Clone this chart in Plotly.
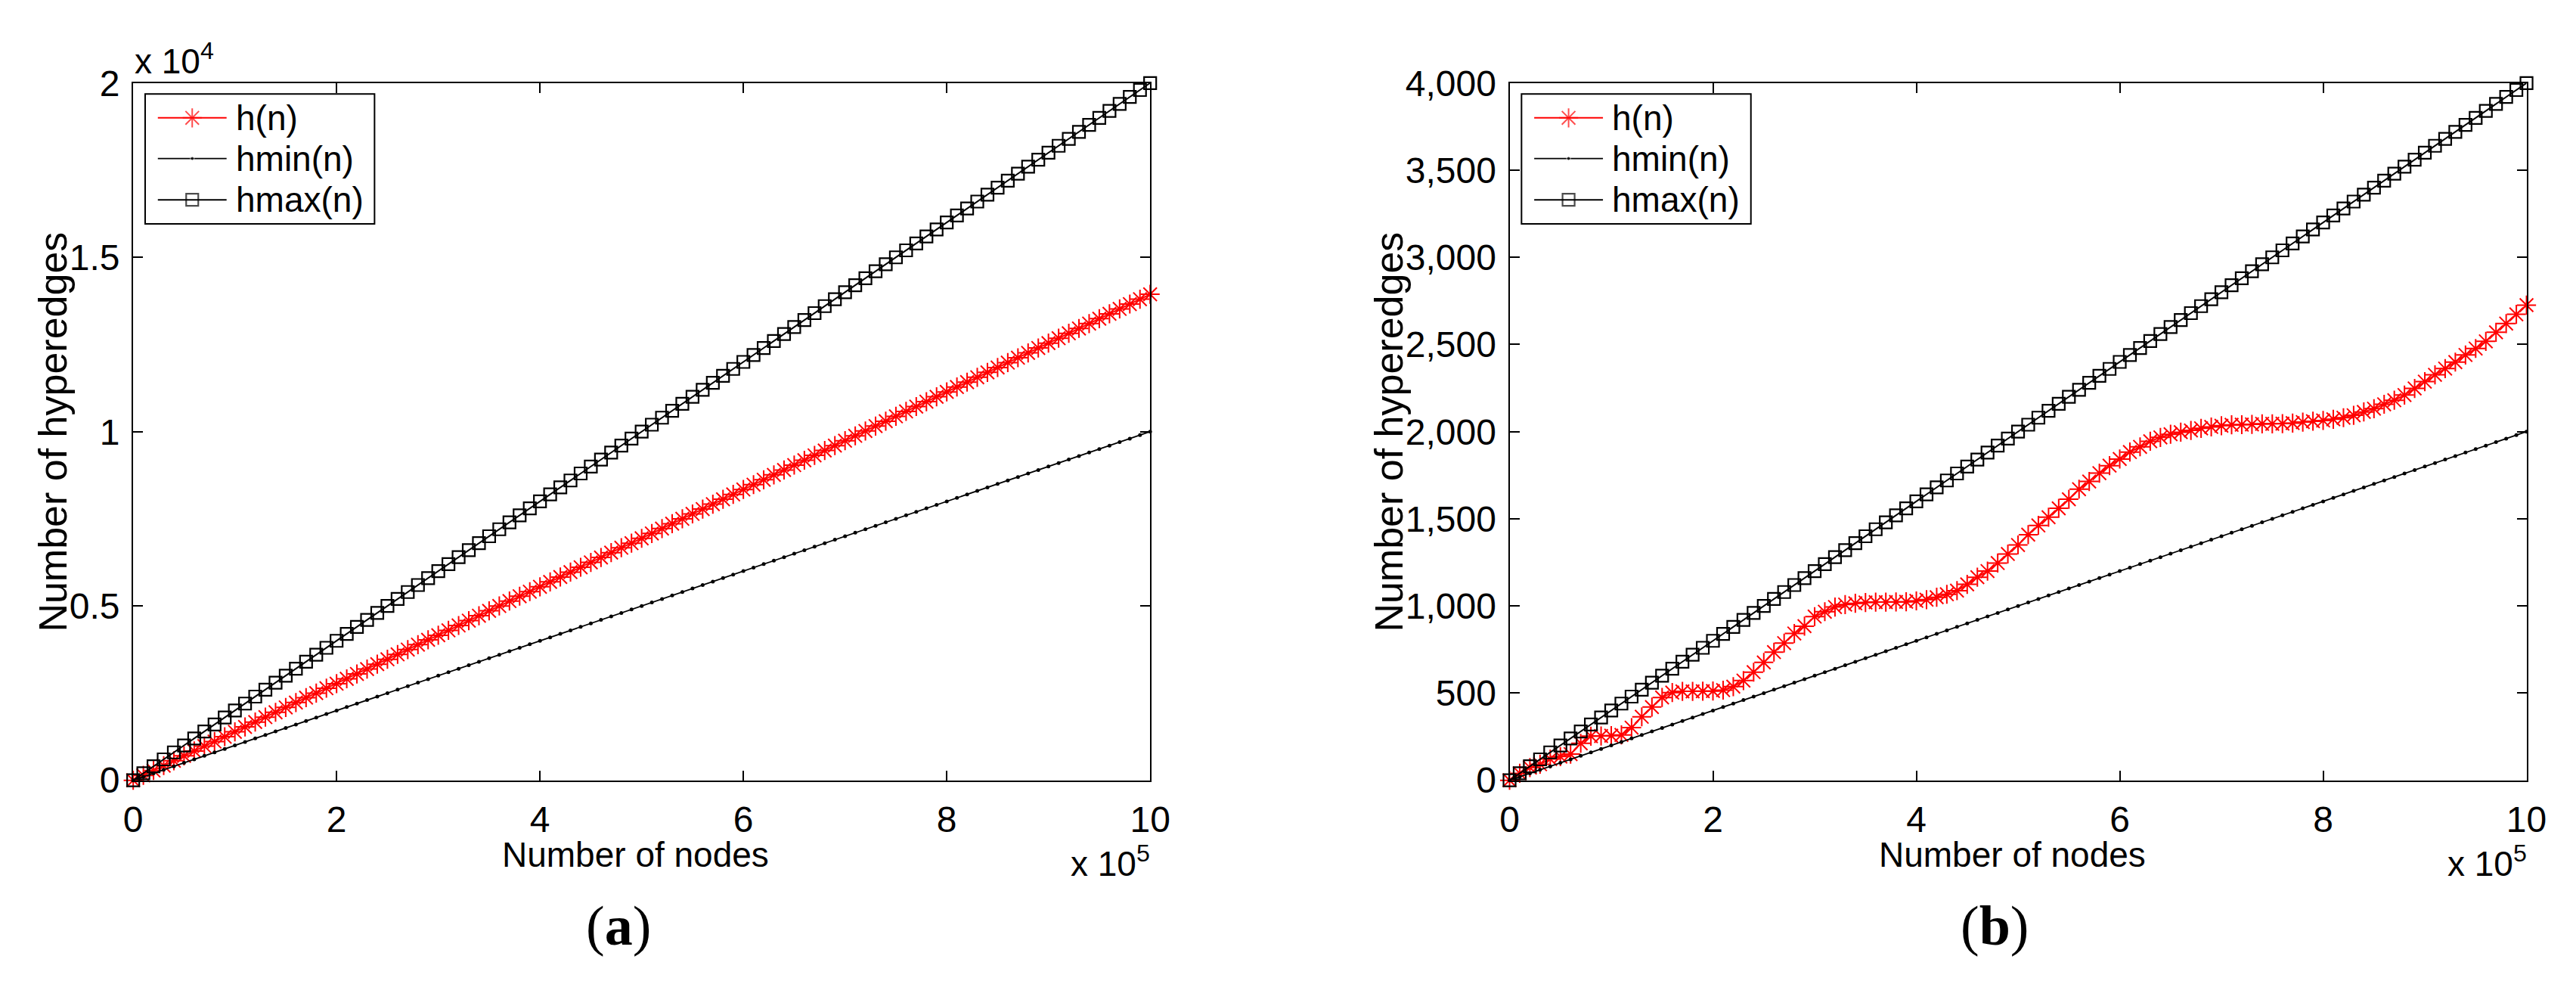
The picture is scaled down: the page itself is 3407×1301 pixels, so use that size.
import plotly.graph_objects as go

W, H = 3407, 1301
FONT = "Liberation Sans, Arial, sans-serif"

# number of nodes (x) shared by both panels
n_nodes = [
    0, 10000, 20000, 30000, 40000, 50000, 60000, 70000, 80000, 90000,
    100000, 110000, 120000, 130000, 140000, 150000, 160000, 170000, 180000, 190000,
    200000, 210000, 220000, 230000, 240000, 250000, 260000, 270000, 280000, 290000,
    300000, 310000, 320000, 330000, 340000, 350000, 360000, 370000, 380000, 390000,
    400000, 410000, 420000, 430000, 440000, 450000, 460000, 470000, 480000, 490000,
    500000, 510000, 520000, 530000, 540000, 550000, 560000, 570000, 580000, 590000,
    600000, 610000, 620000, 630000, 640000, 650000, 660000, 670000, 680000, 690000,
    700000, 710000, 720000, 730000, 740000, 750000, 760000, 770000, 780000, 790000,
    800000, 810000, 820000, 830000, 840000, 850000, 860000, 870000, 880000, 890000,
    900000, 910000, 920000, 930000, 940000, 950000, 960000, 970000, 980000, 990000,
    1000000,
]

# panel (a)
h_a = [
    0, 140, 280, 420, 560, 700, 840, 980, 1110, 1250,
    1390, 1530, 1670, 1810, 1950, 2090, 2230, 2370, 2500, 2640,
    2770, 2910, 3050, 3190, 3330, 3470, 3610, 3750, 3890, 4030,
    4160, 4300, 4440, 4580, 4720, 4860, 5000, 5140, 5280, 5410,
    5550, 5690, 5830, 5970, 6110, 6250, 6390, 6530, 6670, 6800,
    6940, 7080, 7220, 7360, 7500, 7640, 7780, 7920, 8060, 8200,
    8340, 8480, 8620, 8760, 8900, 9040, 9180, 9320, 9460, 9600,
    9740, 9880, 10020, 10160, 10300, 10440, 10580, 10720, 10860, 11000,
    11140, 11280, 11420, 11560, 11700, 11840, 11980, 12120, 12260, 12400,
    12540, 12680, 12820, 12960, 13100, 13240, 13380, 13520, 13660, 13800,
    13940,
]
hmin_a = [
    0, 100, 200, 300, 400, 500, 600, 700, 800, 900,
    1000, 1100, 1200, 1300, 1400, 1500, 1600, 1700, 1800, 1900,
    2000, 2100, 2200, 2300, 2400, 2500, 2600, 2700, 2800, 2900,
    3000, 3100, 3200, 3300, 3400, 3500, 3600, 3700, 3800, 3900,
    4000, 4100, 4200, 4300, 4400, 4500, 4600, 4700, 4800, 4900,
    5000, 5100, 5200, 5300, 5400, 5500, 5600, 5700, 5800, 5900,
    6000, 6100, 6200, 6300, 6400, 6500, 6600, 6700, 6800, 6900,
    7000, 7100, 7200, 7300, 7400, 7500, 7600, 7700, 7800, 7900,
    8000, 8100, 8200, 8300, 8400, 8500, 8600, 8700, 8800, 8900,
    9000, 9100, 9200, 9300, 9400, 9500, 9600, 9700, 9800, 9900,
    10000,
]
hmax_a = [
    0, 200, 400, 600, 800, 1000, 1200, 1400, 1600, 1800,
    2000, 2200, 2400, 2600, 2800, 3000, 3200, 3400, 3600, 3800,
    4000, 4200, 4400, 4600, 4800, 5000, 5200, 5400, 5600, 5800,
    6000, 6200, 6400, 6600, 6800, 7000, 7200, 7400, 7600, 7800,
    8000, 8200, 8400, 8600, 8800, 9000, 9200, 9400, 9600, 9800,
    10000, 10200, 10400, 10600, 10800, 11000, 11200, 11400, 11600, 11800,
    12000, 12200, 12400, 12600, 12800, 13000, 13200, 13400, 13600, 13800,
    14000, 14200, 14400, 14600, 14800, 15000, 15200, 15400, 15600, 15800,
    16000, 16200, 16400, 16600, 16800, 17000, 17200, 17400, 17600, 17800,
    18000, 18200, 18400, 18600, 18800, 19000, 19200, 19400, 19600, 19800,
    20000,
]

# panel (b)
h_b = [
    0, 40, 73, 92, 122, 136, 150, 212, 253, 254,
    256, 260, 302, 364, 420, 475, 503, 510, 510, 511,
    512, 517, 537, 572, 620, 676, 735, 787, 842, 884,
    939, 967, 994, 1008, 1015, 1020, 1022, 1022, 1023, 1024,
    1029, 1036, 1050, 1067, 1088, 1124, 1165, 1200, 1246, 1298,
    1350, 1409, 1462, 1509, 1560, 1612, 1670, 1714, 1762, 1805,
    1843, 1883, 1913, 1945, 1967, 1985, 1997, 2007, 2019, 2027,
    2034, 2039, 2040, 2042, 2045, 2045, 2046, 2049, 2055, 2060,
    2064, 2071, 2080, 2094, 2113, 2132, 2157, 2180, 2210, 2248,
    2287, 2326, 2362, 2399, 2440, 2477, 2518, 2570, 2620, 2673,
    2726,
]
hmin_b = [
    0, 20, 40, 60, 80, 100, 120, 140, 160, 180,
    200, 220, 240, 260, 280, 300, 320, 340, 360, 380,
    400, 420, 440, 460, 480, 500, 520, 540, 560, 580,
    600, 620, 640, 660, 680, 700, 720, 740, 760, 780,
    800, 820, 840, 860, 880, 900, 920, 940, 960, 980,
    1000, 1020, 1040, 1060, 1080, 1100, 1120, 1140, 1160, 1180,
    1200, 1220, 1240, 1260, 1280, 1300, 1320, 1340, 1360, 1380,
    1400, 1420, 1440, 1460, 1480, 1500, 1520, 1540, 1560, 1580,
    1600, 1620, 1640, 1660, 1680, 1700, 1720, 1740, 1760, 1780,
    1800, 1820, 1840, 1860, 1880, 1900, 1920, 1940, 1960, 1980,
    2000,
]
hmax_b = [
    0, 40, 80, 120, 160, 200, 240, 280, 320, 360,
    400, 440, 480, 520, 560, 600, 640, 680, 720, 760,
    800, 840, 880, 920, 960, 1000, 1040, 1080, 1120, 1160,
    1200, 1240, 1280, 1320, 1360, 1400, 1440, 1480, 1520, 1560,
    1600, 1640, 1680, 1720, 1760, 1800, 1840, 1880, 1920, 1960,
    2000, 2040, 2080, 2120, 2160, 2200, 2240, 2280, 2320, 2360,
    2400, 2440, 2480, 2520, 2560, 2600, 2640, 2680, 2720, 2760,
    2800, 2840, 2880, 2920, 2960, 3000, 3040, 3080, 3120, 3160,
    3200, 3240, 3280, 3320, 3360, 3400, 3440, 3480, 3520, 3560,
    3600, 3640, 3680, 3720, 3760, 3800, 3840, 3880, 3920, 3960,
    4000,
]

series_names = ["h(n)", "hmin(n)", "hmax(n)"]

x_tickvals = [0, 200000, 400000, 600000, 800000, 1000000]
x_ticktext = ["0", "2", "4", "6", "8", "10"]
ya_tickvals = [0, 5000, 10000, 15000, 20000]
ya_ticktext = ["0", "0.5", "1", "1.5", "2"]
yb_tickvals = [0, 500, 1000, 1500, 2000, 2500, 3000, 3500, 4000]
yb_ticktext = ["0", "500", "1,000", "1,500", "2,000", "2,500", "3,000", "3,500", "4,000"]

# marker / line look of the three series (MATLAB: r-*, k-., k-s)
styles = [
    dict(line=dict(color="#ff0000", width=2),
         marker=dict(symbol="asterisk-open", size=21, color="#ff0000", line=dict(width=2, color="#ff0000"))),
    dict(line=dict(color="black", width=1.8),
         marker=dict(symbol="circle", size=5, color="black")),
    dict(line=dict(color="black", width=2),
         marker=dict(symbol="square-open", size=16, color="black", line=dict(width=2.2, color="black"))),
]

fig = go.Figure()

panels = [
    ("x", "y", [h_a, hmin_a, hmax_a]),
    ("x2", "y2", [h_b, hmin_b, hmax_b]),
]
for xa, ya, series in panels:
    for name, vals, st in zip(series_names, series, styles):
        fig.add_trace(go.Scatter(
            x=n_nodes, y=vals, name=name, mode="lines+markers",
            line=st["line"], marker=st["marker"], cliponaxis=False,
            xaxis=xa, yaxis=ya, showlegend=False,
        ))

# pixel helpers (margins are zero so paper == pixels)
def px(x):
    return x / W

def py(y):
    return 1 - y / H

axis_style = dict(
    showline=True, linecolor="black", linewidth=2, mirror="allticks",
    ticks="inside", ticklen=13, tickwidth=2, tickcolor="black",
    showgrid=False, zeroline=False,
    tickfont=dict(family=FONT, size=48, color="black"),
)
y_dom = [py(1040), py(79)]

fig.update_layout(
    width=W, height=H,
    margin=dict(l=0, r=0, t=0, b=0),
    paper_bgcolor="white", plot_bgcolor="rgba(0,0,0,0)",
    showlegend=False,
    xaxis=dict(domain=[px(157), px(1518)], range=[0, 1000000], anchor="y",
               tickvals=x_tickvals, ticktext=x_ticktext, ticklabelstandoff=9, **axis_style),
    yaxis=dict(domain=y_dom, range=[0, 20000], anchor="x",
               tickvals=ya_tickvals, ticktext=ya_ticktext, ticklabelstandoff=6, **axis_style),
    xaxis2=dict(domain=[px(1999), px(3360)], range=[0, 1000000], anchor="y2",
                tickvals=x_tickvals, ticktext=x_ticktext, ticklabelstandoff=9, **axis_style),
    yaxis2=dict(domain=y_dom, range=[0, 4000], anchor="x2",
                tickvals=yb_tickvals, ticktext=yb_ticktext, ticklabelstandoff=6, **axis_style),
    # invisible pixel-space overlay used for the legend glyphs
    xaxis3=dict(domain=[0, 1], range=[0, W], visible=False, fixedrange=True, anchor="y3"),
    yaxis3=dict(domain=[0, 1], range=[H, 0], visible=False, fixedrange=True, anchor="x3"),
)

# hand-drawn MATLAB style legends
legend_left = [173, 2015]
row_y = [127, 183, 240]
shapes = []
annotations = []
for left in legend_left:
    shapes.append(dict(type="rect", xref="x3", yref="y3", x0=left, x1=left + 307, y0=94, y1=273,
                       line=dict(color="black", width=2), fillcolor="rgba(0,0,0,0)", layer="above"))
    for name, st, ry in zip(series_names, styles, row_y):
        mk = dict(st["marker"])
        mk["size"] = [0, st["marker"]["size"], 0]
        fig.add_trace(go.Scatter(
            x=[left + 17, left + 63, left + 109], y=[ry, ry, ry], mode="lines+markers",
            line=st["line"], marker=mk, xaxis="x3", yaxis="y3",
            showlegend=False, hoverinfo="skip",
        ))
        annotations.append(dict(xref="x3", yref="y3", x=left + 119, y=ry, text=name,
                                showarrow=False, xanchor="left", yanchor="middle",
                                font=dict(family=FONT, size=46, color="black")))

text_font = dict(family=FONT, size=46, color="black")
# axis titles and exponents
for cx, ty_x, ax_left, ax_right, ex in [(829, 50, 157, 1518, "4"), (2672, 1838, 1999, 3360, None)]:
    annotations.append(dict(xref="x3", yref="y3", x=cx, y=1143, text="Number of nodes",
                            showarrow=False, xanchor="center", yanchor="middle", font=text_font))
    annotations.append(dict(xref="x3", yref="y3", x=ty_x, y=560, text="Number of hyperedges",
                            textangle=-90, showarrow=False, xanchor="center", yanchor="middle",
                            font=dict(family=FONT, size=52, color="black")))
    annotations.append(dict(xref="x3", yref="y3", x=ax_right + 2, y=1120, text="x 10<sup>5</sup>",
                            showarrow=False, xanchor="right", yanchor="top", font=text_font))
    if ex:
        annotations.append(dict(xref="x3", yref="y3", x=ax_left, y=78, text="x 10<sup>" + ex + "</sup>",
                                showarrow=False, xanchor="left", yanchor="bottom", font=text_font))

serif = dict(family="Liberation Serif, Times New Roman, serif", size=74, color="black")
annotations.append(dict(xref="x3", yref="y3", x=806, y=1241, text="(<b>a</b>)", showarrow=False,
                        xanchor="center", yanchor="middle", font=serif))
annotations.append(dict(xref="x3", yref="y3", x=2648, y=1241, text="(<b>b</b>)", showarrow=False,
                        xanchor="center", yanchor="middle", font=serif))

fig.update_layout(shapes=shapes, annotations=annotations)

fig.write_html("out.html")
